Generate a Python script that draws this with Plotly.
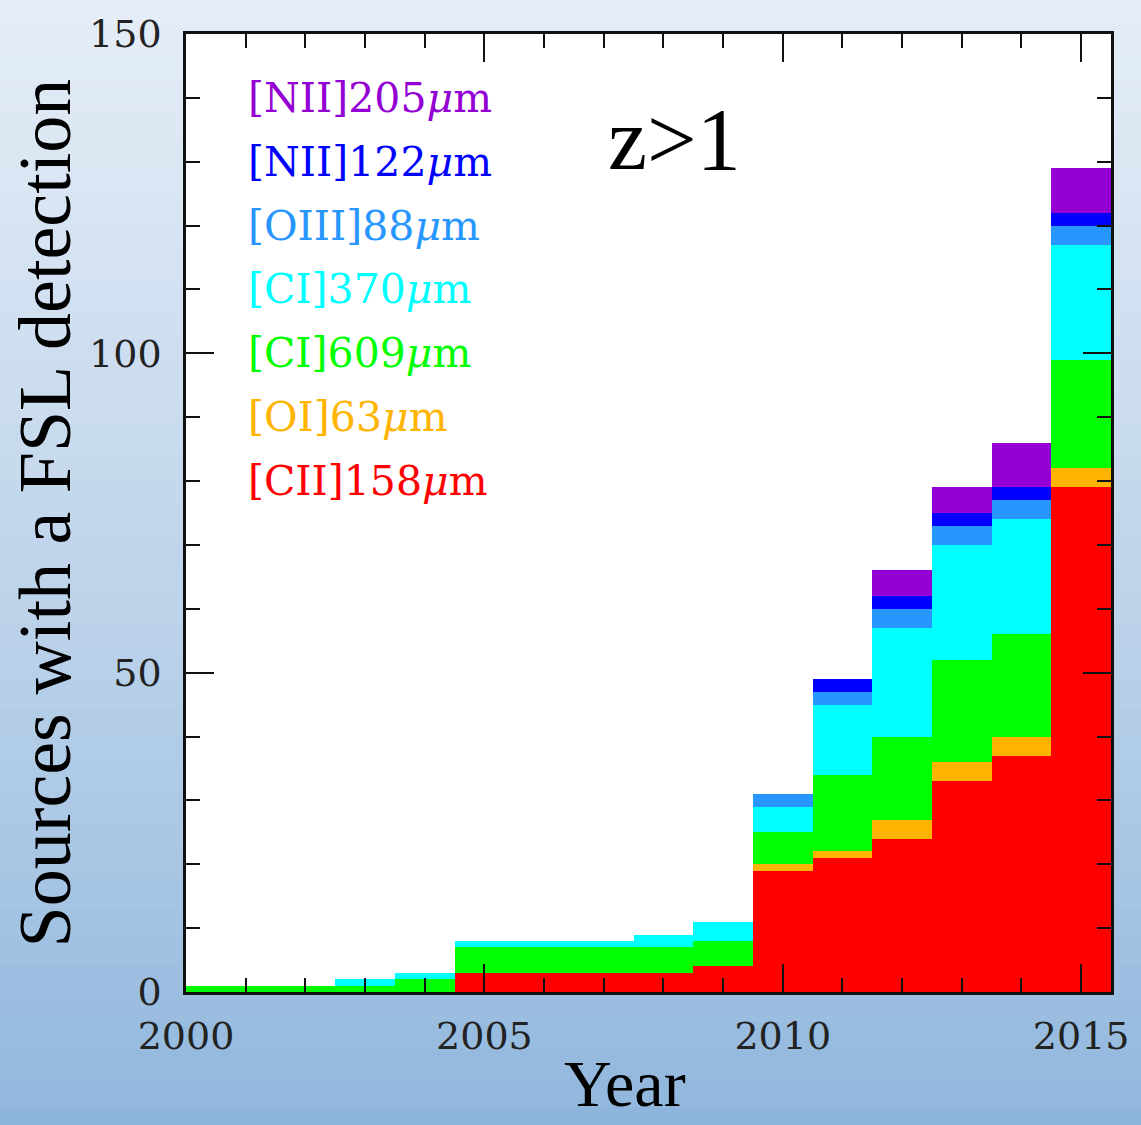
import plotly.graph_objects as go

years = list(range(2000, 2016))
cii_158 = [0, 0, 0, 0, 0, 3, 3, 3, 3, 4, 19, 21, 24, 33, 37, 79]
oi_63 = [0, 0, 0, 0, 0, 0, 0, 0, 0, 0, 1, 1, 3, 3, 3, 3]
ci_609 = [1, 1, 1, 1, 2, 4, 4, 4, 4, 4, 5, 12, 13, 16, 16, 17]
ci_370 = [0, 0, 0, 1, 1, 1, 1, 1, 2, 3, 4, 11, 17, 18, 18, 18]
oiii_88 = [0, 0, 0, 0, 0, 0, 0, 0, 0, 0, 2, 2, 3, 3, 3, 3]
nii_122 = [0, 0, 0, 0, 0, 0, 0, 0, 0, 0, 0, 2, 2, 2, 2, 2]
nii_205 = [0, 0, 0, 0, 0, 0, 0, 0, 0, 0, 0, 0, 4, 4, 7, 7]

series_names = ["[CII]158μm", "[OI]63μm", "[CI]609μm", "[CI]370μm",
                "[OIII]88μm", "[NII]122μm", "[NII]205μm"]
series_values = [cii_158, oi_63, ci_609, ci_370, oiii_88, nii_122, nii_205]
series_colors = ["#ff0000", "#ffb400", "#00ff00", "#00ffff",
                 "#2896ff", "#0000ff", "#9400d3"]
legend_html = ["[CII]158<i>μ</i>m", "[OI]63<i>μ</i>m", "[CI]609<i>μ</i>m",
               "[CI]370<i>μ</i>m", "[OIII]88<i>μ</i>m", "[NII]122<i>μ</i>m",
               "[NII]205<i>μ</i>m"]
legend_yvals = [80, 90, 100, 110, 120, 130, 140]

fig = go.Figure()
for name, vals, col in zip(series_names, series_values, series_colors):
    fig.add_trace(go.Bar(x=years, y=vals, name=name, width=1,
                         marker=dict(color=col, line=dict(width=0)),
                         showlegend=False))

# background gradient (sky-like), drawn as bands in paper coordinates
shapes = []
top_c = (230, 238, 247)
bot_c = (140, 180, 220)
n = 40
y_lo, y_hi = -0.15, 1.04
for i in range(n):
    f0 = i / n
    f1 = (i + 1) / n
    t = (i + 0.5) / n  # 0 bottom -> 1 top
    t2 = t ** 0.8
    c = tuple(int(bot_c[k] + (top_c[k] - bot_c[k]) * t2) for k in range(3))
    shapes.append(dict(type="rect", xref="paper", yref="paper",
                       x0=-0.25, x1=1.05,
                       y0=y_lo + (y_hi - y_lo) * f0,
                       y1=y_lo + (y_hi - y_lo) * f1 + 0.002,
                       fillcolor="rgb(%d,%d,%d)" % c, line=dict(width=0),
                       layer="below"))
shapes.append(dict(type="rect", xref="paper", yref="paper", x0=0, x1=1, y0=0, y1=1,
                   fillcolor="white", line=dict(width=0), layer="below"))

annotations = []
for txt, yv, col in zip(legend_html, legend_yvals, series_colors):
    annotations.append(dict(text=txt, xref="paper", yref="y", x=0.0645, y=yv,
                            xanchor="left", yanchor="middle", showarrow=False,
                            font=dict(family="DejaVu Serif", size=41, color=col)))
annotations.append(dict(text="z>1", xref="paper", yref="y", x=0.5286, y=133.5,
                        xanchor="center", yanchor="middle", showarrow=False,
                        font=dict(family="Liberation Serif", size=88, color="black")))
annotations.append(dict(text="Sources with a FSL detection", xref="paper", yref="paper",
                        x=-0.152, y=0.5, xanchor="center", yanchor="middle",
                        textangle=-90, showarrow=False,
                        font=dict(family="Liberation Serif", size=74, color="black")))
annotations.append(dict(text="Year", xref="paper", yref="paper",
                        x=0.475, y=-0.136, xanchor="center", yanchor="bottom",
                        showarrow=False,
                        font=dict(family="Liberation Serif", size=66, color="black")))

axis_common = dict(showline=True, linecolor="#111", linewidth=2.5, mirror="ticks",
                   ticks="inside", tickcolor="#111", tickwidth=2, ticklen=28,
                   showgrid=False, zeroline=False,
                   tickfont=dict(family="DejaVu Serif", size=38, color="#222"))

fig.update_layout(
    width=1141, height=1125,
    margin=dict(l=186, r=28, t=28, b=133),
    barmode="stack", bargap=0,
    paper_bgcolor="rgb(200,218,238)", plot_bgcolor="white",
    xaxis=dict(range=[2000, 2015.5], tickmode="array", tickvals=[2000, 2005, 2010, 2015],
               ticktext=["2000", "2005", "2010", "2015"], ticklabelstandoff=9,
               minor=dict(dtick=1, tick0=2000, ticklen=14, tickwidth=2, tickcolor="#111",
                          ticks="inside", showgrid=False),
               **axis_common),
    yaxis=dict(range=[0, 150], tickmode="array", tickvals=[0, 50, 100, 150],
               ticktext=["0", "50", "100", "150"], ticklabelstandoff=14,
               minor=dict(dtick=10, tick0=0, ticklen=14, tickwidth=2, tickcolor="#111",
                          ticks="inside", showgrid=False),
               **axis_common),
    shapes=shapes, annotations=annotations,
)

fig.write_html("out.html")
